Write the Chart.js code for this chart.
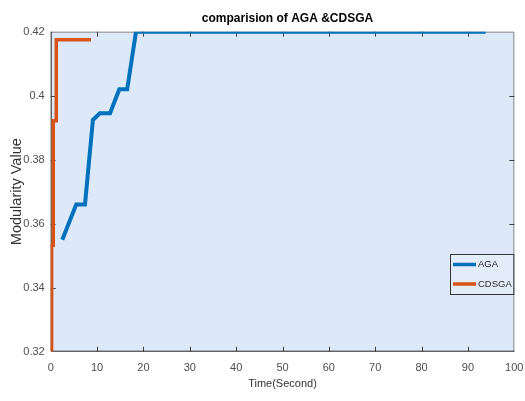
<!DOCTYPE html>
<html>
<head>
<meta charset="utf-8">
<script src="https://cdn.jsdelivr.net/npm/chart.js@4.4.0/dist/chart.umd.min.js"></script>
<style>
  html, body { margin: 0; padding: 0; background: #ffffff; }
  canvas { display: block; }
</style>
</head>
<body>
<canvas id="modularity-chart" width="525" height="401"></canvas>
<script>
const chartTitle = 'comparision of AGA &CDSGA'
const seriesLabels = ['AGA', 'CDSGA']
const agaTime = [2.5, 5.5, 7.4, 9.1, 10.6, 12.8, 14.8, 16.5, 18.4, 93.8]
const agaValue = [0.355, 0.366, 0.366, 0.3924, 0.3945, 0.3945, 0.402, 0.402, 0.42, 0.42]
const cdsgaTime = [0.2, 0.2, 0.55, 0.55, 1.2, 1.2, 8.7]
const cdsgaValue = [0.32, 0.3533, 0.3533, 0.3922, 0.3922, 0.4175, 0.4175]
const xTicks = [0, 10, 20, 30, 40, 50, 60, 70, 80, 90, 100]
const yTicks = [0.32, 0.34, 0.36, 0.38, 0.4, 0.42]

const plainFont = "'Liberation Sans', Arial, sans-serif"

function toPoints(xs, ys) {
  return xs.map((x, i) => ({ x: x, y: ys[i] }))
}

// light blue plot box, matlab style border with inward ticks
const axesBoxPlugin = {
  id: 'axesBox',
  beforeDraw(chart) {
    const { ctx, chartArea } = chart
    ctx.save()
    ctx.fillStyle = '#dde9f8'
    ctx.fillRect(chartArea.left, chartArea.top, chartArea.right - chartArea.left, chartArea.bottom - chartArea.top)
    ctx.restore()
  },
  beforeDatasetsDraw(chart) {
    const { ctx, chartArea } = chart
    const { left, right, top, bottom } = chartArea
    const xs = chart.scales.x
    const ys = chart.scales.y
    ctx.save()
    ctx.lineWidth = 1
    // top + right
    ctx.strokeStyle = '#8a8a8a'
    ctx.beginPath()
    ctx.moveTo(left, top + 0.5)
    ctx.lineTo(right - 0.5, top + 0.5)
    ctx.lineTo(right - 0.5, bottom)
    ctx.stroke()
    // bottom + left
    ctx.strokeStyle = '#262626'
    ctx.beginPath()
    ctx.moveTo(left + 0.5, top)
    ctx.lineTo(left + 0.5, bottom - 0.5)
    ctx.lineTo(right, bottom - 0.5)
    ctx.stroke()
    // inward ticks
    ctx.strokeStyle = '#404040'
    ctx.beginPath()
    xTicks.slice(1, -1).forEach(v => {
      const px = Math.round(xs.getPixelForValue(v)) + 0.5
      ctx.moveTo(px, bottom)
      ctx.lineTo(px, bottom - 5)
      ctx.moveTo(px, top)
      ctx.lineTo(px, top + 5)
    })
    yTicks.slice(1, -1).forEach(v => {
      const py = Math.round(ys.getPixelForValue(v)) + 0.5
      ctx.moveTo(left, py)
      ctx.lineTo(left + 5, py)
      ctx.moveTo(right, py)
      ctx.lineTo(right - 5, py)
    })
    ctx.stroke()
    ctx.restore()
  },
  afterDraw(chart) {
    const { ctx, chartArea } = chart
    ctx.save()
    // title
    ctx.fillStyle = '#000000'
    ctx.font = 'bold 12px ' + plainFont
    ctx.textAlign = 'center'
    ctx.textBaseline = 'middle'
    ctx.fillText(chartTitle, 287.5, 19)
    // legend box
    const boxLeft = 450.5
    const boxTop = 254.5
    const boxRight = chartArea.right - 0.5
    const boxBottom = 294.5
    ctx.fillStyle = '#e3edf9'
    ctx.fillRect(boxLeft, boxTop, boxRight - boxLeft, boxBottom - boxTop)
    ctx.strokeStyle = '#333333'
    ctx.lineWidth = 1
    ctx.strokeRect(boxLeft, boxTop, boxRight - boxLeft, boxBottom - boxTop)
    ctx.font = '9.5px ' + plainFont
    ctx.textAlign = 'left'
    chart.data.datasets.forEach((ds, i) => {
      const rowY = 264.5 + i * 19.5
      ctx.strokeStyle = ds.borderColor
      ctx.lineWidth = 3.5
      ctx.beginPath()
      ctx.moveTo(453, rowY)
      ctx.lineTo(476, rowY)
      ctx.stroke()
      ctx.fillStyle = '#262626'
      ctx.fillText(ds.label, 478, rowY)
    })
    ctx.restore()
  }
}

const modularityData = {
  datasets: [{
    label: seriesLabels[0],
    data: toPoints(agaTime, agaValue),
    borderColor: '#0072bd',
    borderWidth: 4,
    pointRadius: 0,
    fill: false,
    tension: 0
  },
  {
    label: seriesLabels[1],
    data: toPoints(cdsgaTime, cdsgaValue),
    borderColor: '#d95319',
    borderWidth: 3.5,
    pointRadius: 0,
    fill: false,
    tension: 0
  }]
}

const modularityConfig = {
  type: 'line',
  data: modularityData,
  options: {
    responsive: false,
    animation: false,
    layout: {
      padding: { top: 31.7, right: 10.7, left: 0, bottom: 0 }
    },
    scales: {
      x: {
        type: 'linear',
        min: 0,
        max: 100,
        afterBuildTicks: (scale) => { scale.ticks = xTicks.map(v => ({ value: v })) },
        afterFit: (scale) => {
          scale.height = 49.3
          scale.paddingLeft = 0
          scale.paddingRight = 0
        },
        grid: { display: false, drawTicks: false },
        border: { display: false },
        ticks: {
          autoSkip: false,
          maxRotation: 0,
          padding: 10,
          color: '#4d4d4d',
          font: { family: plainFont, size: 11 },
          callback: (value) => String(value)
        },
        title: {
          display: true,
          text: 'Time(Second)',
          color: '#333333',
          font: { family: plainFont, size: 11 },
          padding: { top: 0, bottom: 10.8 }
        }
      },
      y: {
        type: 'linear',
        min: 0.32,
        max: 0.42,
        afterBuildTicks: (scale) => { scale.ticks = yTicks.map(v => ({ value: v })) },
        afterFit: (scale) => {
          scale.width = 50.7
          scale.paddingTop = 0
          scale.paddingBottom = 0
        },
        grid: { display: false, drawTicks: false },
        border: { display: false },
        ticks: {
          autoSkip: false,
          padding: 6,
          color: '#4d4d4d',
          font: { family: plainFont, size: 11 },
          callback: (value) => String(value)
        },
        title: {
          display: true,
          text: 'Modularity Value',
          color: '#333333',
          font: { family: plainFont, size: 14.5 },
          padding: { top: 8, bottom: 0 }
        }
      }
    },
    plugins: {
      legend: { display: false },
      title: { display: false },
      tooltip: { enabled: false }
    }
  },
  plugins: [axesBoxPlugin]
}

const chartElement = document.getElementById('modularity-chart').getContext('2d')
const modularityChart = new Chart(chartElement, modularityConfig)
</script>
</body>
</html>
